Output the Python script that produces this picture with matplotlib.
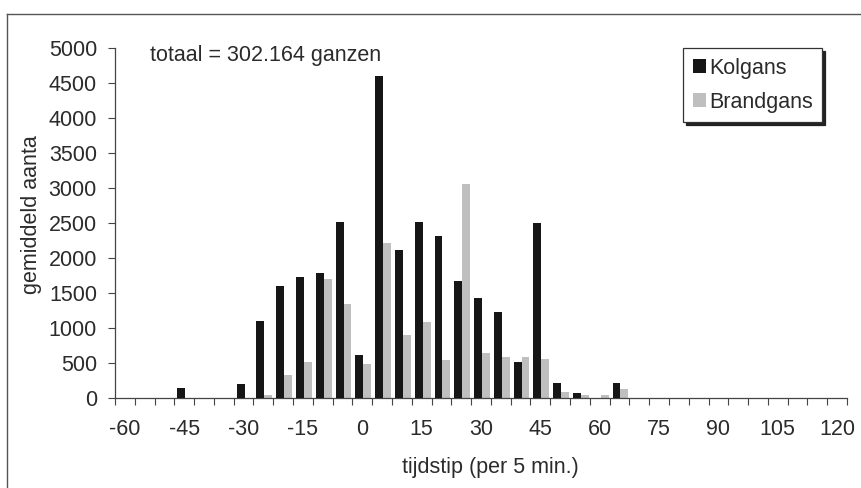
import numpy as np
import matplotlib
matplotlib.use('Agg')
import matplotlib.pyplot as plt
from matplotlib.lines import Line2D

plt.rcParams['font.family'] = ['Liberation Sans', 'DejaVu Sans']

# tijdstip in minuten, per 5 min
tijd = list(range(-60, 125, 5))
kolgans = [0, 0, 0, 150, 0, 0, 200, 1100, 1600, 1730, 1790, 2520, 610, 4600,
           2110, 2520, 2310, 1670, 1430, 1230, 520, 2500, 210, 70, 0, 215,
           0, 0, 0, 0, 0, 0, 0, 0, 0, 0, 0]
brandgans = [0, 0, 0, 0, 0, 0, 0, 40, 330, 510, 1700, 1350, 490, 2220,
             900, 1090, 550, 3060, 640, 580, 590, 560, 90, 45, 45, 130,
             0, 0, 0, 0, 0, 0, 0, 0, 0, 0, 0]
yticks = list(range(0, 5001, 500))
label_every = 3

fs = 15.5
txtcol = '#2b2b2b'
W, H = 862, 488

fig = plt.figure(figsize=(W/100, H/100), dpi=100)
ax = fig.add_axes([115/W, 1-398/H, 732/W, 350/H])

x = np.arange(len(tijd))
bw = 0.4
ax.bar(x - bw/2 + 0.05, kolgans, width=bw, color='#161616', label='Kolgans', zorder=3)
ax.bar(x + bw/2 + 0.05, brandgans, width=bw, color='#bfbfbf', label='Brandgans', zorder=2)

ax.set_xlim(-0.5, len(tijd) - 0.5)
ax.set_ylim(0, 5000)

# tick marks between the categories
ax.set_xticks(np.arange(-0.5, len(tijd), 1))
ax.set_xticklabels([])
ax.tick_params(axis='x', which='major', direction='out', length=5, width=0.8, color='#444')
lab_pos = x[::label_every]
ax.set_xticks(lab_pos, [str(tijd[i]) for i in lab_pos], minor=True)
ax.tick_params(axis='x', which='minor', length=0, pad=15, labelsize=fs, labelcolor=txtcol)

ax.set_yticks(yticks, [str(v) for v in yticks])
ax.tick_params(axis='y', direction='out', length=5, width=0.8, color='#444',
               pad=8, labelsize=fs, labelcolor=txtcol)

for s in ['top', 'right']:
    ax.spines[s].set_visible(False)
for s in ['left', 'bottom']:
    ax.spines[s].set_color('#444')
    ax.spines[s].set_linewidth(0.9)

fig.text(150/W, 1-56/H, 'totaal = 302.164 ganzen', fontsize=fs, color=txtcol,
         ha='left', va='center')
fig.text(32/W, 1-215/H, 'gemiddeld aanta', fontsize=fs, color=txtcol,
         rotation=90, ha='center', va='center')
fig.text(490/W, 1-468/H, 'tijdstip (per 5 min.)', fontsize=fs, color=txtcol,
         ha='center', va='center')

leg = ax.legend(loc='upper left', bbox_to_anchor=(683/W, 1-48/H),
                bbox_transform=fig.transFigure, fontsize=fs, frameon=True,
                fancybox=False, shadow={'color': '#222', 'alpha': 1},
                handlelength=0.6, handleheight=0.6, handletextpad=0.15,
                borderpad=0.45, labelspacing=0.6, borderaxespad=0)
leg.get_frame().set_edgecolor('#333')
leg.get_frame().set_linewidth(0.9)
for t in leg.get_texts():
    t.set_color(txtcol)

# outer chart frame
fig.add_artist(Line2D([7/W, 7/W], [0, 1-14/H], color='#555', lw=1))
fig.add_artist(Line2D([7/W, 1], [1-14/H, 1-14/H], color='#555', lw=1))

fig.savefig('out.png', dpi=100)
